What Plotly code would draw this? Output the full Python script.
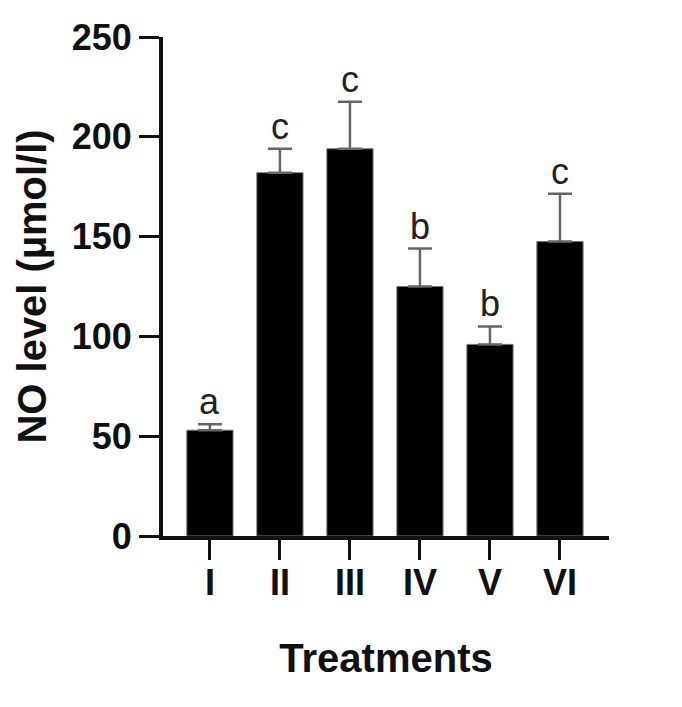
import plotly.graph_objects as go

categories = ["I", "II", "III", "IV", "V", "VI"]
means = [53, 182, 194, 125, 96, 147.5]
errors = [3, 12, 23.5, 19, 9, 24]
letters = ["a", "c", "c", "b", "b", "c"]

FONT = "Liberation Sans, Arial, sans-serif"

fig = go.Figure()
fig.add_trace(go.Bar(
    x=categories, y=means, width=0.66,
    marker=dict(color="black", line=dict(color="#777777", width=1)),
    error_y=dict(type="data", array=errors, arrayminus=[0]*len(errors), symmetric=False,
                 color="#666666", thickness=2.5, width=12),
))

for c, m, e, l in zip(categories, means, errors, letters):
    fig.add_annotation(x=c, y=m + e, text=l, showarrow=False, yanchor="bottom",
                       yshift=0, font=dict(family=FONT, size=36, color="#222222"))

fig.update_layout(
    width=682, height=707,
    margin=dict(l=163, r=73, t=37, b=171),
    plot_bgcolor="white", paper_bgcolor="white",
    showlegend=False,
    font=dict(family=FONT, color="#111111"),
)
fig.update_xaxes(
    range=[-0.67, 5.7], showline=True, linewidth=4, linecolor="#111111",
    ticks="outside", ticklen=20, tickwidth=3, tickcolor="#111111",
    tickfont=dict(family=FONT, size=36, color="#111111", weight="bold"),
    ticklabelstandoff=-8,
    title=dict(text="<b>Treatments</b>", font=dict(family=FONT, size=40, color="#111111"), standoff=43),
    showgrid=False, zeroline=False,
)
fig.update_yaxes(
    range=[0, 250], tickvals=[0, 50, 100, 150, 200, 250],
    showline=True, linewidth=4, linecolor="#111111",
    ticks="outside", ticklen=20, tickwidth=3, tickcolor="#111111",
    tickfont=dict(family=FONT, size=36, color="#111111", weight="bold"),
    ticklabelstandoff=0,
    title=dict(text="<b>NO level (µmol/l)</b>", font=dict(family=FONT, size=40, color="#111111"), standoff=14),
    showgrid=False, zeroline=False,
)

fig.write_html("out.html")
